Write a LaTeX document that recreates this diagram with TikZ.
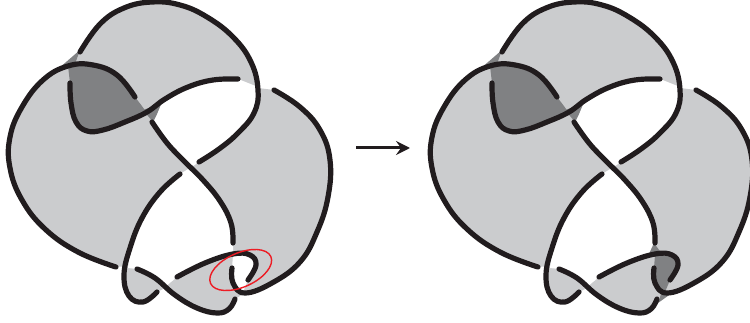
\documentclass[tikz,border=0pt]{standalone}
\usetikzlibrary{arrows.meta}
\definecolor{lightknot}{HTML}{CBCCCE}
\definecolor{darkknot}{HTML}{808183}
\definecolor{inkknot}{HTML}{211C1E}
\definecolor{redknot}{HTML}{ED1C24}
\tikzset{
  strand/.style={draw=inkknot,line width=5.2pt,line cap=round,line join=round},
  lightfill/.style={fill=lightknot},
  darkfill/.style={fill=darkknot},
  holefill/.style={fill=white},
  sm/.style={smooth,tension=0.7}
}
\newcommand{\knotbase}{%
  % silhouette
  \fill[lightfill] plot[sm] coordinates {(80,52)(100,24)(124,8)(152,2)(180,5)(207,17)(233,37)(251,62)(258,88)}
    -- plot[sm] coordinates {(274,90)(300,107)(320,130)(330,160)(328,197)(317,232)(300,262)(272,283)(245,293)}
    -- plot[sm] coordinates {(235,299)(229,309)(217,313)(197,308)(175,295)(165,288)}
    -- plot[sm] coordinates {(157,292)(143,302)(129,296)(124,275)(128,266)}
    -- plot[sm] coordinates {(116,267)(78,252)(45,229)(22,200)(10,168)(10,137)(22,107)(43,80)(60,70)} -- cycle;
  % upper white hole
  \fill[holefill] plot[sm] coordinates {(238,79)(258,87)} -- plot[sm] coordinates {(258,90)(254,113)(238,133)(219,149)(199,162)}
    -- plot[sm] coordinates {(190,168)(167,143)(153,122)} -- (157,114) -- plot[sm] coordinates {(161,105)(188,88)(213,81)(238,79)} -- cycle;
  % lower white hole
  \fill[holefill] plot[sm] coordinates {(190,168)(203,180)(220,201)(231,223)(233,243)(233,254)}
    -- plot[sm] coordinates {(233,254)(205,263)(177,277)} -- (165,287)
    -- plot[sm] coordinates {(165,287)(155,278)(137,269)} -- (128,268)
    -- plot[sm] coordinates {(130,248)(142,218)(160,192)(180,174)} -- cycle;
  % dark bigon
  \fill[darkfill] plot[sm] coordinates {(68,66)(93,65)(117,75)(135,97)(147,113)}
    -- plot[sm] coordinates {(147,113)(125,122)(103,130)(87,131)(76,122)(71,103)(70,83)} -- cycle;
  \fill[darkfill] (80,50) -- (58,69) -- (75,64) -- cycle;
  \fill[darkfill] (143,110) -- (161,104) -- (157,114) -- (153,122) -- cycle;
}
\newcommand{\knotstrands}{%
  \draw[strand] plot[sm] coordinates {(80,52)(100,24)(124,8)(152,2)(180,5)(207,17)(233,37)(251,62)(258,90)(254,113)(238,133)(219,149)(199,162)};
  \draw[strand] plot[sm] coordinates {(238,79)(213,80)(188,87)(165,99)(147,112)(125,122)(103,130)(87,131)(76,122)(71,103)(70,83)};
  \draw[strand] plot[sm] coordinates {(135,97)(117,75)(93,65)(68,66)(43,80)(22,107)(10,137)(10,168)(22,200)(45,229)(78,252)(116,267)};
  \draw[strand] plot[sm] coordinates {(152,122)(167,143)(184,161)(203,180)(220,201)(231,223)(233,243)};
  \draw[strand] plot[sm] coordinates {(180,174)(160,192)(142,218)(130,248)(124,275)(129,296)(143,302)(157,292)};
  \draw[strand] plot[sm] coordinates {(137,269)(155,278)(175,295)(197,308)(217,313)(229,309)(235,299)};
  \draw[strand] plot[sm] coordinates {(177,277)(205,263)(233,254)(250,255)(256,265)(248,280)};
  \draw[strand] plot[sm] coordinates {(232,268)(233,283)(245,293)(272,283)(300,262)(317,232)(328,197)(330,160)(320,130)(300,107)(274,90)};
}
\begin{document}
\begin{tikzpicture}[x=1pt,y=-1pt]
\useasboundingbox (0,0) rectangle (750,323);
\begin{scope}
  \knotbase
  \fill[holefill] plot[sm] coordinates {(233,255)(250,256)(254,265)(248,280)(243,292)} -- plot[sm] coordinates {(243,292)(235,283)(232,268)} -- cycle;
  \knotstrands
  \draw[redknot,line width=1.4pt,rotate around={24:(240.7,270)}] (240.7,270) ellipse [x radius=33,y radius=17];
\end{scope}
\begin{scope}[shift={(422,0)}]
  \knotbase
  \fill[darkfill] plot[sm] coordinates {(233,255)(250,256)(254,265)(248,280)(243,292)} -- plot[sm] coordinates {(243,292)(235,283)(232,268)} -- cycle;
  \fill[darkfill] (232,243) -- (226,256) -- (240,254) -- cycle;
  \fill[darkfill] (236,303) -- (240,291) -- (250,293) -- cycle;
  \knotstrands
\end{scope}
\coordinate (arrowtail) at (356,148);
\coordinate (arrowhead) at (410,148);
\draw[draw=inkknot,line width=3pt,-{Stealth[length=14pt,width=14pt,inset=5pt]}] (arrowtail) -- (arrowhead);
\end{tikzpicture}
\end{document}
